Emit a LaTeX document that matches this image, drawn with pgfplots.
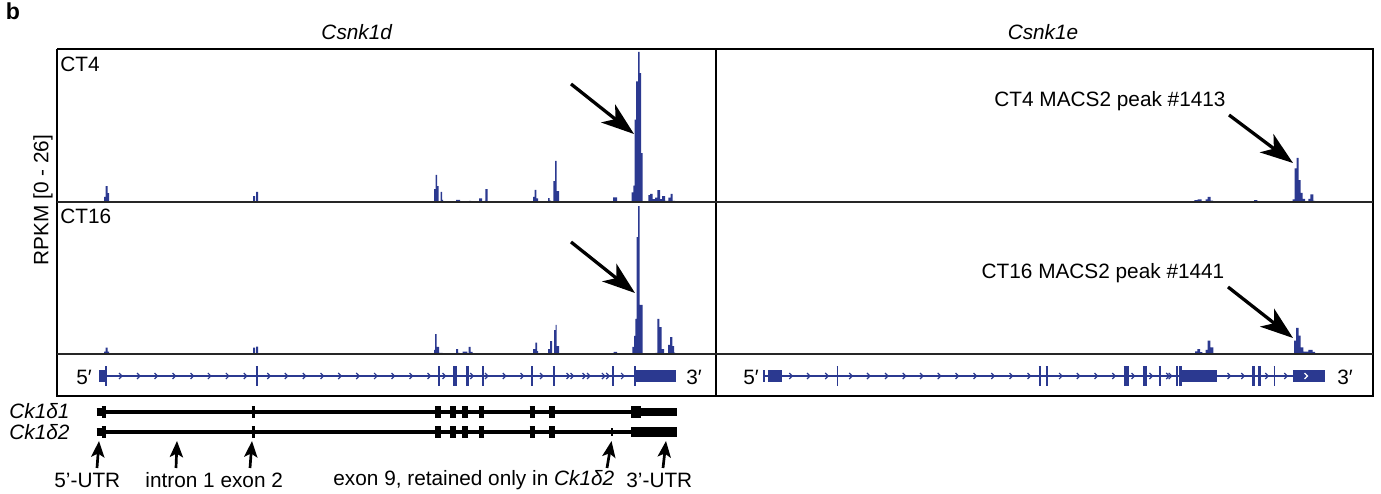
\documentclass[border=0pt]{standalone}
\usepackage{pgfplots}
\pgfplotsset{compat=1.18}
\usepackage{fontspec}
\setmainfont{Liberation Sans}
\usetikzlibrary{arrows.meta}
\definecolor{igvblue}{RGB}{43,57,144}
\newlength\pxu
\setlength\pxu{0.01674cm}
% intron direction chevron
\pgfdeclareplotmark{chev}{%
  \pgfpathmoveto{\pgfqpoint{-0.5\pgfplotmarksize}{\pgfplotmarksize}}%
  \pgfpathlineto{\pgfqpoint{0.5\pgfplotmarksize}{0pt}}%
  \pgfpathlineto{\pgfqpoint{-0.5\pgfplotmarksize}{-\pgfplotmarksize}}%
  \pgfusepathqstroke}
\pgfplotsset{
  cov/.style={scale only axis, hide axis, ymin=0, ymax=26, clip=true, anchor=south west},
  track/.style={fill=igvblue, draw=none, const plot},
}
\tikzset{
  bigarrow/.style={black, line width=0.055cm, -{Stealth[length=0.55cm, width=0.38cm, inset=0.15cm]}},
  smallarrow/.style={black, line width=0.045cm, -{Stealth[length=0.27cm, width=0.22cm, inset=0.06cm]}},
}
\begin{document}
\begin{tikzpicture}[font=\fontsize{9.9}{12}\selectfont]
\path[use as bounding box] (0,0) rectangle (1381\pxu,494\pxu);

% ---- coverage, Csnk1d CT4
\begin{axis}[cov, xmin=57, xmax=716, width=659\pxu, height=153\pxu, at={(57\pxu,292\pxu)}]
\addplot[track] coordinates {
(57,0) (104,0.86) (105.5,2.7) (107.5,1.5) (109,0) (253,1.0) (255,0) (256,1.7) (258,0)
(434,2.2) (435.5,4.6) (437,2.7) (438.7,0) (440.7,1.7) (442,0.35) (443,0) (456,0.35) (460,0)
(469,0.2) (471,0) (479,0.6) (482,0) (484.3,0.2) (485.3,2.2) (487.7,0.1) (490,0)
(528,0.15) (531,0) (533,0.85) (534.7,2.05) (536.3,0.6) (538,0) (548,0.65) (549.7,0.25) (551,0)
(553.3,3.55) (555,7.0) (556.7,1.85) (559,0) (613,0.8) (617,0)
(631.7,1.65) (633.3,2.8) (634.5,14) (636,20.5) (638,25.5) (639.7,21.9) (641,8.3) (642.7,0)
(648.3,1.15) (650,1.4) (652.7,0.5) (655,0.75) (657.3,2.0) (660,0.5) (662,1.0) (665,0.2)
(668.3,0.75) (670.7,1.4) (672.7,0.2) (675,0) (716,0)
} \closedcycle;
\end{axis}

% ---- coverage, Csnk1d CT16
\begin{axis}[cov, xmin=57, xmax=716, width=659\pxu, height=152\pxu, at={(57\pxu,140\pxu)}]
\addplot[track] coordinates {
(57,0) (104,0.4) (105.5,1.1) (107.5,0.4) (109,0) (253,1.1) (255,0) (256,1.25) (258,0)
(434,0.7) (435,3.4) (436.7,1.2) (439,0.2) (442.7,0) (454,0.15) (456,0.85) (458,0.2) (459.5,0)
(462.7,0.4) (467.3,0) (468.7,1.2) (470.7,0.35) (472.7,0) (479,0.15) (481.7,0) (485,0.15) (487.3,0)
(528,0.1) (531,0) (533,0.85) (535.3,1.95) (537,0.5) (538,0) (548,0.85) (550,2.2) (552,0.15)
(554,4.1) (555.7,5.0) (556.7,1.35) (559,0) (611,0.15) (613.7,0.35) (617,0)
(630,0.15) (632.3,1.2) (634,3.1) (635.3,6.0) (636.5,20) (638.2,25.3) (639.7,8.4) (642.5,0.1) (644,0)
(651,0.15) (654,0) (655.3,0.2) (657.3,6.0) (659.3,4.6) (661.7,0.85) (664,0.15) (666,0)
(668,1.55) (670,2.9) (672.3,1.35) (674,0.25) (675,0) (716,0)
} \closedcycle;
\end{axis}

% ---- coverage, Csnk1e CT4
\begin{axis}[cov, xmin=716, xmax=1373, width=657\pxu, height=153\pxu, at={(716\pxu,292\pxu)}]
\addplot[track] coordinates {
(716,0) (1185,0.15) (1187.3,0) (1194.3,0.3) (1197.7,0.45) (1201.7,0.1) (1203,0)
(1205.7,0.45) (1207.7,0.85) (1210.7,0.25) (1213,0) (1254,0.3) (1257.3,0)
(1292.7,0.45) (1294.7,5.7) (1296.7,7.5) (1298.7,3.7) (1300.7,1.55) (1302.7,0.55) (1305,0)
(1308.3,0.55) (1310.3,1.3) (1313.3,0.2) (1315,0) (1373,0)
} \closedcycle;
\end{axis}

% ---- coverage, Csnk1e CT16
\begin{axis}[cov, xmin=716, xmax=1373, width=657\pxu, height=152\pxu, at={(716\pxu,140\pxu)}]
\addplot[track] coordinates {
(716,0) (1195,0.45) (1197.3,0.85) (1200,0.3) (1202.3,0)
(1205.7,0.7) (1207.7,2.3) (1210.3,1.15) (1213.3,0.15) (1215,0)
(1294,2.3) (1296,4.45) (1298.7,3.15) (1300.7,1.15) (1303.3,0.4) (1308.3,0.7) (1312.7,0.35) (1315,0) (1373,0)
} \closedcycle;
\end{axis}

% ---- frame, gene models, labels (pixel coordinates, y downwards)
\begin{axis}[scale only axis, hide axis, clip=false, at={(0,0)}, anchor=south west,
  width=1381\pxu, height=494\pxu, xmin=0, xmax=1381, ymin=0, ymax=494, y dir=reverse,
  unbounded coords=jump]

% frame
\addplot[black, line width=0.034cm] coordinates {(57,49) (1373,49) (1373,396) (57,396) (57,49)};
\addplot[black, line width=0.034cm] coordinates {(716,49) (716,396)};
\addplot[black!85, line width=0.05cm] coordinates {(57,202) (1373,202)};
\addplot[black!85, line width=0.05cm] coordinates {(57,354) (1373,354)};

% gene tracks (RefSeq style)
\addplot[igvblue, line width=0.025cm] coordinates {(105,376) (635,376) (0,nan) (764,376) (1325,376)};
\addplot[igvblue, line width=0.335cm] coordinates {
(105,376)(106.5,376) (0,nan) (255.5,376)(257.5,376) (0,nan) (438,376)(440,376) (0,nan)
(453,376)(457.3,376) (0,nan) (465.8,376)(468.8,376) (0,nan) (482,376)(484,376) (0,nan)
(531,376)(533,376) (0,nan) (552.5,376)(554.5,376) (0,nan) (612,376)(613.5,376) (0,nan)
(634,376)(635.5,376) (0,nan)
(836.5,376)(838,376) (0,nan) (1038.5,376)(1041,376) (0,nan) (1045.5,376)(1048,376) (0,nan)
(1123.5,376)(1129,376) (0,nan) (1142.8,376)(1147,376) (0,nan) (1158.5,376)(1160.6,376) (0,nan)
(1176,376)(1177.5,376) (0,nan) (1179,376)(1181.6,376) (0,nan) (1252,376)(1255.4,376) (0,nan)
(1257.5,376)(1260.5,376) (0,nan) (1273.7,376)(1275.2,376)
};
\addplot[igvblue, line width=0.2cm] coordinates {
(99,376)(105,376) (0,nan) (634.6,376)(676,376) (0,nan)
(763,376)(764.5,376) (0,nan) (767.6,376)(782,376) (0,nan) (1181.6,376)(1216.6,376) (0,nan)
(1293.4,376)(1325,376)
};
\addplot[igvblue, only marks, mark=chev, mark size=0.05cm, mark options={line width=0.02cm}] coordinates {
(120.5,376) (138.5,376) (156,376) (174,376) (192,376) (209.4,376) (227.4,376) (245.3,376)
(268.8,376) (286.3,376) (304.3,376) (322,376) (339.7,376) (357.7,376) (375.6,376) (393,376)
(411,376) (429,376) (444,376) (471.8,376) (486.5,376) (504.3,376) (522,376) (541.5,376)
(568,376) (572,376) (584,376) (588.5,376) (603.4,376) (607.7,376) (622.6,376)
(790.8,376) (808.5,376) (826.7,376) (850.7,376) (868.4,376) (886.5,376) (904.2,376) (921.5,376)
(939.2,376) (957,376) (975,376) (992.8,376) (1011,376) (1029,376) (1060.6,376) (1078.3,376)
(1096,376) (1113.8,376) (1133,376) (1150.9,376) (1167.7,376) (1170.2,376) (1229,376)
(1242.8,376) (1266.8,376) (1285.8,376)
};
\addplot[white, only marks, mark=chev, mark size=0.05cm, mark options={line width=0.02cm}] coordinates {(1306,376)};

% transcript models Ck1d1 / Ck1d2
\addplot[black, line width=0.06cm] coordinates {(101,412) (677,412) (0,nan) (101,432) (677,432)};
\addplot[black, line width=0.19cm] coordinates {
(101.5,412)(105.5,412) (0,nan) (251.6,412)(255.3,412) (0,nan) (435.3,412)(440.8,412) (0,nan)
(450,412)(456,412) (0,nan) (462,412)(468,412) (0,nan) (478.9,412)(484.4,412) (0,nan)
(529.6,412)(534.6,412) (0,nan) (549.3,412)(554.8,412) (0,nan) (631.3,412)(640.5,412) (0,nan)
(101.5,432)(105.5,432) (0,nan) (251.6,432)(255.3,432) (0,nan) (435.3,432)(440.8,432) (0,nan)
(450,432)(456,432) (0,nan) (462,432)(468,432) (0,nan) (478.9,432)(484.4,432) (0,nan)
(529.6,432)(534.6,432) (0,nan) (549.3,432)(554.8,432)
};
\addplot[black, line width=0.134cm] coordinates {(96.5,412)(101.5,412) (0,nan) (96.5,432)(101.5,432)};
\addplot[black, line width=0.15cm] coordinates {(640.5,412)(677,412) (0,nan) (611,432)(613.3,432)};
\addplot[black, line width=0.167cm] coordinates {(631.3,432)(677,432)};

% peak arrows
\addplot[bigarrow] coordinates {(571,84) (634,134)};
\addplot[bigarrow] coordinates {(571,242) (635,293)};
\addplot[bigarrow] coordinates {(1229,115) (1293,163)};
\addplot[bigarrow] coordinates {(1228,287) (1293,338)};

% feature arrows
\addplot[smallarrow] coordinates {(97,468) (99,441)};
\addplot[smallarrow] coordinates {(176,468) (177,441)};
\addplot[smallarrow] coordinates {(250,468) (252,441)};
\addplot[smallarrow] coordinates {(607,468) (611.5,441)};
\addplot[smallarrow] coordinates {(663,468) (666,441)};

% text
\node[font=\fontsize{11}{12}\selectfont\bfseries] at (axis cs:13,11) {b};
\node at (axis cs:357,32) {\textit{Csnk1d}};
\node at (axis cs:1043,32) {\textit{Csnk1e}};
\node[rotate=90] at (axis cs:43,200) {RPKM [0 - 26]};
\node[anchor=west, inner sep=0pt] at (axis cs:60,64) {CT4};
\node[anchor=west, inner sep=0pt] at (axis cs:60,216) {CT16};
\node at (axis cs:1110,101) {CT4 MACS2 peak \#1413};
\node at (axis cs:1103,273) {CT16 MACS2 peak \#1441};
\node at (axis cs:84,377) {5′};
\node at (axis cs:694,377) {3′};
\node at (axis cs:751,377) {5′};
\node at (axis cs:1345,377) {3′};
\node[anchor=west, inner sep=0pt] at (axis cs:9,411) {\textit{Ck1δ1}};
\node[anchor=west, inner sep=0pt] at (axis cs:9,432) {\textit{Ck1δ2}};
\node[anchor=west, inner sep=0pt] at (axis cs:54,480) {5'-UTR};
\node[anchor=west, inner sep=0pt] at (axis cs:145,480) {intron 1 exon 2};
\node[anchor=west, inner sep=0pt] at (axis cs:333,480) {exon 9, retained only in \textit{Ck1δ2}};
\node[anchor=west, inner sep=0pt] at (axis cs:626,480) {3'-UTR};
\end{axis}
\end{tikzpicture}
\end{document}
